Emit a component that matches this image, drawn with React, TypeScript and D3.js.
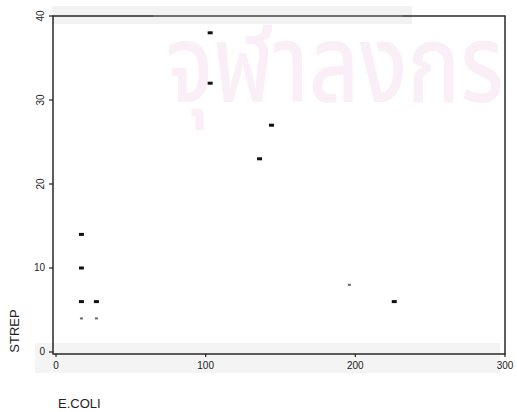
import React from "react";
import * as d3 from "d3";

// E. coli vs. Strep counts per sample
const ecoli = [103, 103, 144, 136, 17, 17, 17, 27, 17, 27, 196, 226];
const strep = [38, 32, 27, 23, 14, 10, 6, 6, 4, 4, 8, 6];
// samples printed with a faint, smaller mark
const faint = [8, 9, 10];
const xTicks = [0, 100, 200, 300];
const yTicks = [0, 10, 20, 30, 40];
const rotatedY = [20, 30, 40];

const W = 517;
const H = 412;
const left = 53;
const right = 505;
const top = 16;
const bottom = 354;

export default function App() {
  const x = d3.scaleLinear().domain([0, 300]).range([left + 3, right]);
  const y = d3.scaleLinear().domain([0, 40]).range([bottom - 2, top]);
  const tickFont = "'Liberation Sans Narrow', 'Liberation Sans', sans-serif";

  return (
    <svg width={W} height={H} style={{ position: "absolute", left: 0, top: 0, background: "#fff" }}>
      <rect x={0} y={0} width={W} height={H} fill="#fff" />
      {/* faint shaded bands along top and bottom edges */}
      <rect x={52} y={6} width={360} height={18} fill="#f2f2f2" />
      <rect x={35} y={343} width={465} height={30} fill="#f4f4f4" />
      {/* background watermark */}
      <text
        transform="translate(166,102) scale(1.04,1.3)"
        fontSize={84}
        fontWeight={500}
        fill="#fbeff7"
        fontFamily="'Noto Sans Thai', 'Noto Sans', sans-serif"
      >
        จุฬาลงกร
      </text>

      {/* plot frame */}
      <rect x={left} y={top} width={right - left} height={bottom - top} fill="none" stroke="#1a1a1a" strokeWidth={1.4} />
      <line x1={left + 100} x2={left + 350} y1={top} y2={top} stroke="#777" strokeWidth={1.4} />

      {/* y axis ticks */}
      {yTicks.map((t) => (
        <g key={"y" + t}>
          <line x1={left - 4} x2={left} y1={y(t)} y2={y(t)} stroke="#222" strokeWidth={1.2} />
          {rotatedY.includes(t) ? (
            <text
              transform={`translate(${left - 9},${y(t)}) rotate(-90)`}
              textAnchor="middle"
              fontSize={10}
              fontFamily={tickFont}
              fill="#222"
            >
              {t}
            </text>
          ) : (
            <text x={left - 8} y={y(t) + 3} textAnchor="end" fontSize={10} fontFamily={tickFont} fill="#222">
              {t}
            </text>
          )}
        </g>
      ))}

      {/* x axis ticks */}
      {xTicks.map((t) => (
        <g key={"x" + t}>
          <line x1={x(t)} x2={x(t)} y1={bottom} y2={bottom + 3} stroke="#222" strokeWidth={1.2} />
          <text x={x(t)} y={bottom + 15} textAnchor="middle" fontSize={10} fontFamily={tickFont} fill="#222">
            {t}
          </text>
        </g>
      ))}

      {/* points */}
      {ecoli.map((v, i) =>
        faint.includes(i) ? (
          <rect key={i} x={x(v) - 1.5} y={y(strep[i]) - 1} width={3} height={2} fill="#666" />
        ) : (
          <rect key={i} x={x(v) - 2.5} y={y(strep[i]) - 1.5} width={5} height={3} fill="#111" />
        )
      )}

      {/* axis titles */}
      <text
        transform={`translate(19,331) rotate(-90)`}
        textAnchor="middle"
        fontSize={13}
        fontFamily={tickFont}
        fill="#222"
      >
        STREP
      </text>
      <text x={58} y={408} fontSize={13} fontFamily={tickFont} fill="#222">
        E.COLI
      </text>
    </svg>
  );
}
